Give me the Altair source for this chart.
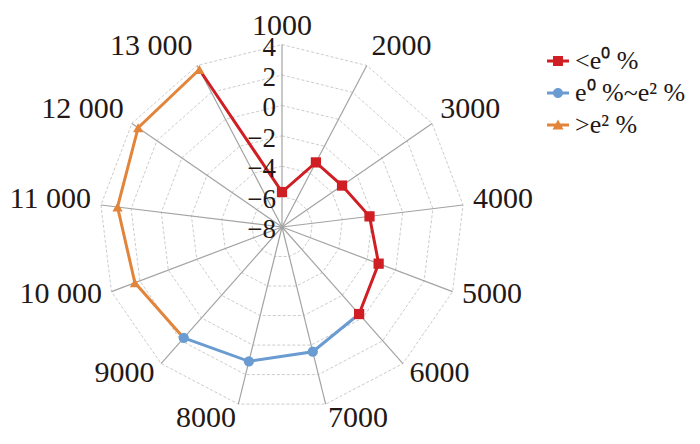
import math
import altair as alt
import pandas as pd

# ---------------- data ----------------
categories = ["1000", "2000", "3000", "4000", "5000", "6000", "7000",
              "8000", "9000", "10 000", "11 000", "12 000", "13 000"]
tick_values = [4, 2, 0, -2, -4, -6, -8]
tick_labels = ["4", "2", "0", "\u22122", "\u22124", "\u22126", "\u22128"]
ring_values = [4, 2, 0, -2, -4, -6]

series_names = ["<e\u2070 %", "e\u2070 %~e\u00b2 %", ">e\u00b2 %"]
series_colors = ["#d01f24", "#6a9bd1", "#e2843a"]
series_shapes = ["square", "circle", "triangle-up"]

low_cats = ["13 000", "1000", "2000", "3000", "4000", "5000", "6000"]
low_vals = [3.7, -5.7, -3.2, -3.2, -2.2, -1.2, -0.35]
mid_cats = ["6000", "7000", "8000", "9000"]
mid_vals = [-0.35, 0.45, 1.1, 1.75]
high_cats = ["9000", "10 000", "11 000", "12 000", "13 000"]
high_vals = [1.75, 2.35, 2.9, 3.5, 3.7]

# ---------------- layout ----------------
N = len(categories)
VMIN = -8
RMAX = 12
PX = 15.2
W, H = 682, 426
CX, CY = 274, 219
x_scale = alt.Scale(domain=[-CX / PX, (W - CX) / PX], nice=False, zero=False)
y_scale = alt.Scale(domain=[-(H - CY) / PX, CY / PX], nice=False, zero=False)
FONT = "Liberation Serif"
TXT = "#231815"

ANG = f"datum.idx*2*PI/{N}"

rows = []
for name, cats, vals in zip(series_names, [low_cats, mid_cats, high_cats],
                            [low_vals, mid_vals, high_vals]):
    for seq, (c, v) in enumerate(zip(cats, vals)):
        rows.append({"series": name, "idx": categories.index(c), "value": v, "seq": seq})
df = pd.DataFrame(rows)

ring_rows = []
for t in ring_values:
    for k in range(N + 1):
        ring_rows.append({"ring": t, "k": k, "idx": k % N})
rings_df = pd.DataFrame(ring_rows)

cat_df = pd.DataFrame({"label": categories, "idx": list(range(N))})
tick_df = pd.DataFrame({"v": tick_values, "t": tick_labels})

X = lambda f: alt.X(f, type="quantitative", scale=x_scale, axis=None)
Y = lambda f: alt.Y(f, type="quantitative", scale=y_scale, axis=None)

rings = alt.Chart(rings_df).transform_calculate(
    ang=ANG, r=f"datum.ring-({VMIN})"
).transform_calculate(
    x="datum.r*sin(datum.ang)", y="datum.r*cos(datum.ang)"
).mark_line(color="#cccccc", strokeWidth=1, strokeDash=[3, 2]).encode(
    x=X("x"), y=Y("y"), detail="ring:N", order="k:Q"
)

spokes = alt.Chart(cat_df).transform_calculate(
    ang=ANG, x0="0", y0="0"
).transform_calculate(
    xe=f"{RMAX}*sin(datum.ang)", ye=f"{RMAX}*cos(datum.ang)"
).mark_rule(color="#a3a3a3", strokeWidth=1.2).encode(
    x=X("x0"), y=Y("y0"), x2="xe:Q", y2="ye:Q"
)

base = alt.Chart(df).transform_calculate(
    ang=ANG, r=f"datum.value-({VMIN})"
).transform_calculate(
    x="datum.r*sin(datum.ang)", y="datum.r*cos(datum.ang)"
)

color_scale = alt.Scale(domain=series_names, range=series_colors)

# legend symbols: a short line with the marker on it (all sub-paths clockwise)
line_part = "M-1.1,-0.15H1.1V0.15H-1.1Z"
sym_paths = [
    line_part + "M-0.5,-0.5H0.5V0.5H-0.5Z",
    line_part + "M-0.5,0A0.5,0.5 0 1,1 0.5,0A0.5,0.5 0 1,1 -0.5,0Z",
    line_part + "M0,-0.55L0.55,0.45L-0.55,0.45Z",
]
names_js = "[" + ",".join("'" + s + "'" for s in series_names) + "]"
paths_js = "[" + ",".join("'" + p + "'" for p in sym_paths) + "]"
shape_expr = f"{paths_js}[indexof({names_js}, datum.value)]"

legend = alt.Legend(
    title=None, orient="none", legendX=537, legendY=40, padding=0,
    labelFont=FONT, labelFontSize=26, labelColor=TXT, labelOffset=4,
    symbolSize=400, symbolStrokeWidth=0, rowPadding=6, labelLimit=300,
    symbolType=alt.ExprRef(expr=shape_expr),
)

lines = base.mark_line(strokeWidth=3).encode(
    x=X("x"), y=Y("y"),
    color=alt.Color("series:N", scale=color_scale, legend=legend),
    detail="series:N", order="seq:Q"
)

point_layers = []
for name, shp in zip(series_names, series_shapes):
    point_layers.append(
        base.transform_filter(
            alt.FieldEqualPredicate(field="series", equal=name)
        ).transform_filter("datum.seq > 0").mark_point(
            filled=True, size=105, opacity=1, shape=shp
        ).encode(
            x=X("x"), y=Y("y"),
            color=alt.Color("series:N", scale=color_scale, legend=legend),
        )
    )

ticks = alt.Chart(tick_df).transform_calculate(
    x0="0", r=f"datum.v-({VMIN})"
).mark_text(align="right", baseline="middle", dx=-6, dy=3, font=FONT,
            fontSize=27, color=TXT).encode(
    x=X("x0"), y=Y("r"), text="t:N"
)

lab_base = alt.Chart(cat_df).transform_calculate(
    ang=ANG
).transform_calculate(
    s="sin(datum.ang)", c="cos(datum.ang)"
).transform_calculate(
    lx=f"({RMAX}+10/{PX})*datum.s",
    ly=f"{RMAX}*datum.c+(18*datum.c+4)/{PX}",
)


def lab_layer(filt, align, dy=0):
    return lab_base.transform_filter(filt).mark_text(
        align=align, baseline="middle", font=FONT, fontSize=30, color=TXT, dy=dy
    ).encode(x=X("lx"), y=Y("ly"), text="label:N")


labels_l = lab_layer("datum.s > 0.05", "left")
labels_r = lab_layer("datum.s < -0.05", "right")
labels_c = lab_layer("abs(datum.s) <= 0.05", "center", dy=3)

chart = alt.layer(
    rings, spokes, lines, *point_layers, ticks, labels_l, labels_r, labels_c
).properties(
    width=W, height=H, autosize=alt.AutoSizeParams(type="none"),
    padding={"left": 0, "top": 0, "right": 0, "bottom": 0},
).configure_view(stroke=None)

chart.save("out.html", embed_options={"renderer": "svg", "actions": False})
